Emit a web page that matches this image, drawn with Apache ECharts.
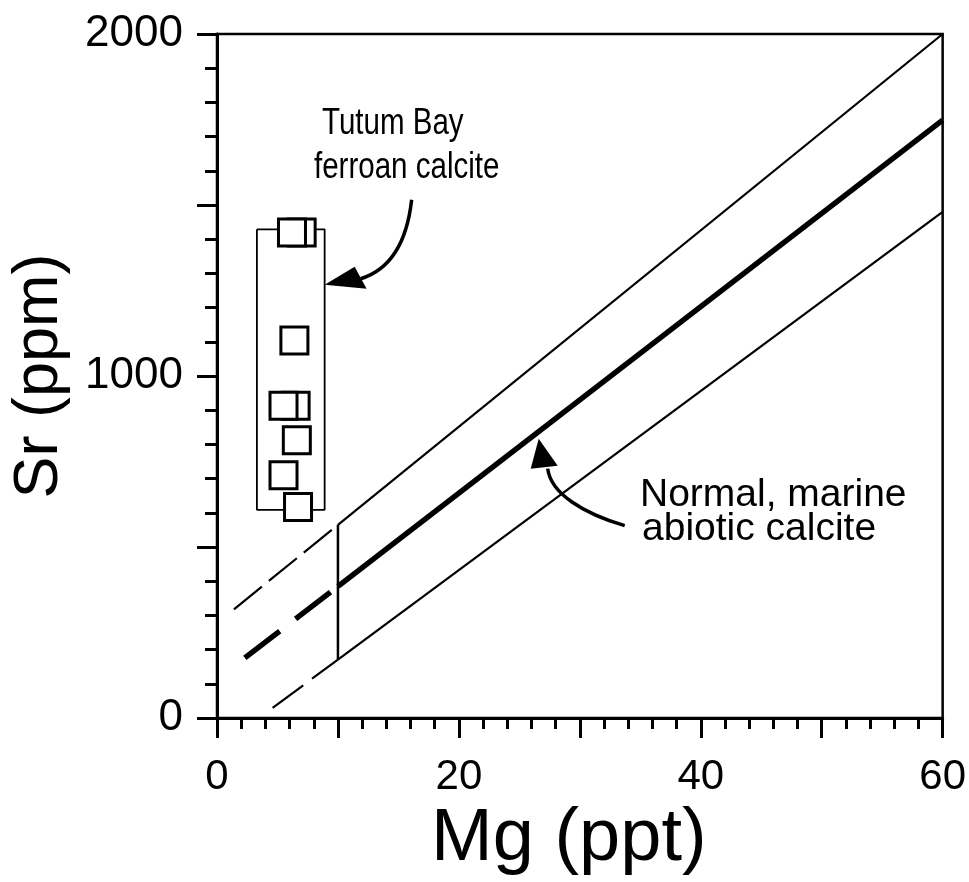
<!DOCTYPE html>
<html>
<head>
<meta charset="utf-8">
<script src="https://cdn.jsdelivr.net/npm/echarts@6/dist/echarts.min.js"></script>
<style>
  html, body { margin: 0; padding: 0; background: #fff; }
  #chart { width: 969px; height: 882px; }
</style>
</head>
<body>
<div id="chart"></div>
<script>
// Sr vs Mg in calcite: Tutum Bay ferroan calcite compared with the
// normal marine abiotic calcite band.

// Tutum Bay ferroan calcite analyses (Mg in ppt, Sr in ppm)
const tutumMg = [7.0, 6.2, 6.4, 6.5, 5.5, 6.6, 5.5, 6.7];
const tutumSr = [1420, 1420, 1104, 913, 913, 812, 710, 617];

// Outline enclosing the Tutum Bay analyses
const boxMg = [3.3, 8.9, 8.9, 3.3, 3.3];
const boxSr = [1429, 1429, 609, 609, 1429];

// Normal marine abiotic calcite field: upper, central and lower trends
const upperMg = [10, 60];
const upperSr = [565, 2000];
const upperExtMg = [1.4, 10];
const upperExtSr = [318, 565];

const centralMg = [10, 60];
const centralSr = [385, 1748];
const centralExtMg = [2.3, 10];
const centralExtSr = [176, 385];

const lowerMg = [10, 60];
const lowerSr = [171, 1480];
const lowerExtMg = [4.6, 10];
const lowerExtSr = [30, 171];

// Lower limit of the measured field at Mg = 10 ppt
const edgeMg = [10, 10];
const edgeSr = [171, 565];

// Axis tick labels
const mgLabels = [0, 20, 40, 60];
const srLabels = [0, 1000, 2000];

const FONT = '"Liberation Sans", Arial, Helvetica, sans-serif';
const zip = (xs, ys) => xs.map((x, i) => [x, ys[i]]);

function lineSeries(xs, ys, width, dash, z) {
  return {
    type: 'line',
    data: zip(xs, ys),
    symbol: 'none',
    silent: true,
    z: z || 2,
    lineStyle: { color: '#000', width: width, type: dash || 'solid', cap: 'butt', opacity: 1 }
  };
}

const chart = echarts.init(document.getElementById('chart'), null, { renderer: 'canvas' });

const option = {
  animation: false,
  backgroundColor: '#fff',
  grid: {
    left: 217, right: 26, top: 34, bottom: 160,
    show: true, borderColor: '#000', borderWidth: 2.5, backgroundColor: 'transparent'
  },
  xAxis: {
    type: 'value', min: 0, max: 60, interval: 10,
    name: 'Mg (ppt)', nameLocation: 'middle', nameGap: 78,
    nameTextStyle: { fontFamily: FONT, fontSize: 74, color: '#000', padding: [0, 22, 0, 0] },
    axisLine: { lineStyle: { color: '#000', width: 3 } },
    axisTick: { show: true, length: 20, lineStyle: { color: '#000', width: 3 } },
    minorTick: { show: true, splitNumber: 5, length: 11, lineStyle: { color: '#000', width: 3 } },
    splitLine: { show: false },
    axisLabel: {
      margin: 38, fontFamily: FONT, fontSize: 42, color: '#000',
      formatter: v => mgLabels.includes(v) ? String(v) : ''
    }
  },
  yAxis: {
    type: 'value', min: 0, max: 2000, interval: 500,
    name: 'Sr (ppm)', nameLocation: 'middle', nameGap: 146, nameRotate: 90,
    nameMoveOverlap: false,
    nameTextStyle: { fontFamily: FONT, fontSize: 63, color: '#000' },
    axisLine: { lineStyle: { color: '#000', width: 3 } },
    axisTick: { show: true, length: 20, lineStyle: { color: '#000', width: 3 } },
    minorTick: { show: true, splitNumber: 5, length: 12, lineStyle: { color: '#000', width: 3 } },
    splitLine: { show: false },
    axisLabel: {
      margin: 34, fontFamily: FONT, fontSize: 44, color: '#000',
      formatter: v => srLabels.includes(v) ? String(v) : ''
    }
  },
  series: [
    lineSeries(boxMg, boxSr, 1.8, 'solid', 2),
    lineSeries(upperMg, upperSr, 2.2),
    lineSeries(upperExtMg, upperExtSr, 2.2, [36, 9]),
    lineSeries(centralMg, centralSr, 5.5),
    lineSeries(centralExtMg, centralExtSr, 5.5, [44, 20]),
    lineSeries(lowerMg, lowerSr, 2.2),
    lineSeries(lowerExtMg, lowerExtSr, 2.2, [38, 11]),
    lineSeries(edgeMg, edgeSr, 2.5),
    {
      type: 'scatter',
      data: zip(tutumMg, tutumSr),
      symbol: 'rect',
      symbolSize: 27,
      silent: true,
      z: 5,
      itemStyle: { color: '#fff', borderColor: '#000', borderWidth: 3, opacity: 1 }
    }
  ]
};

chart.setOption(option);

// Curved annotation arrows, anchored at their targets in data space
const tip1 = chart.convertToPixel({ gridIndex: 0 }, [8.9, 1267]);
const tip2 = chart.convertToPixel({ gridIndex: 0 }, [26.6, 817]);

function arrow(tip, curve, head) {
  return [
    {
      type: 'bezierCurve',
      shape: {
        x1: tip[0] + curve[0], y1: tip[1] + curve[1],
        cpx1: tip[0] + curve[2], cpy1: tip[1] + curve[3],
        cpx2: tip[0] + curve[4], cpy2: tip[1] + curve[5],
        x2: tip[0] + curve[6], y2: tip[1] + curve[7]
      },
      style: { stroke: '#000', lineWidth: 3.5, fill: null },
      z: 10
    },
    {
      type: 'polygon',
      shape: { points: [[tip[0], tip[1]], [tip[0] + head[0], tip[1] + head[1]], [tip[0] + head[2], tip[1] + head[3]]] },
      style: { fill: '#000' },
      z: 10
    }
  ];
}

// Condensed caption lines (horizontally compressed sans text)
const condensed = (txt, x, y) => ({
  type: 'text', x: x, y: y, scaleX: 0.82, z: 10,
  style: { text: txt, fontFamily: FONT, fontSize: 36, fill: '#000', textAlign: 'left', textVerticalAlign: 'top' }
});

chart.setOption({
  graphic: [
    ...arrow(tip1, [87, -85, 82, -40, 65, -15, 36, -6], [30, -18, 42, 4]),
    ...arrow(tip2, [86, 87, 45, 75, 12, 55, 9, 30], [-8, 30, 19, 27]),
    condensed('Tutum Bay', 322, 106),
    condensed('ferroan calcite', 314, 150),
    { type: 'text', left: 640, top: 476, z: 10,
      style: { text: 'Normal, marine', fontFamily: FONT, fontSize: 39, fill: '#000' } },
    { type: 'text', left: 642, top: 510, z: 10,
      style: { text: 'abiotic calcite', fontFamily: FONT, fontSize: 39, fill: '#000' } }
  ]
});
</script>
</body>
</html>
